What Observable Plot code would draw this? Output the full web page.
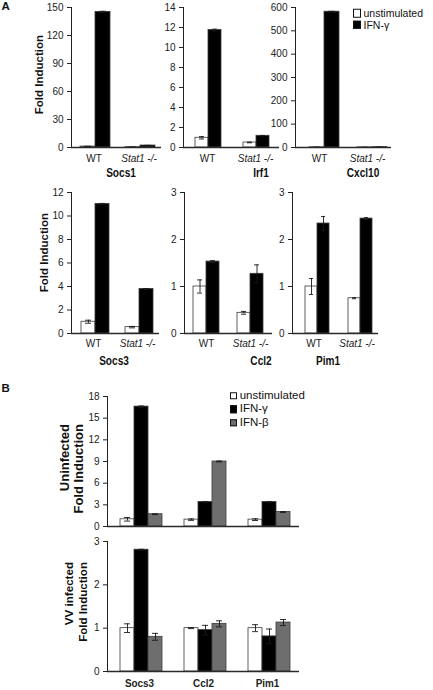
<!DOCTYPE html>
<html><head><meta charset="utf-8">
<script src="https://cdn.jsdelivr.net/npm/d3@7"></script>
<script src="https://cdn.jsdelivr.net/npm/@observablehq/plot@0.6"></script>
<style>
body{margin:0;background:#fff;}
#fig{position:relative;width:433px;height:690px;overflow:hidden;background:#fff;font-family:"Liberation Sans",Arial,Helvetica,sans-serif;color:#111;}
.title{position:absolute;font-weight:bold;font-size:12px;transform:translate(-50%,-50%) scaleX(0.84);white-space:nowrap;line-height:1;}
.ylab{position:absolute;transform-origin:0 0;transform:rotate(-90deg);text-align:right;white-space:pre;font-weight:bold;width:140px;}
.letter{position:absolute;font-weight:bold;font-size:11.5px;line-height:1;transform:translateY(-50%);}
.lg{position:absolute;display:flex;align-items:center;white-space:nowrap;line-height:1;transform:translateY(-50%);}
.lg span.sw{display:inline-block;box-sizing:border-box;border:1px solid #111;}
</style></head>
<body><div id="fig"></div>
<script>
// ---------- data ----------
const genotypes = ["WT", "Stat1 -/-"];
const treatmentsA = ["unstimulated", "IFN-γ"];
const treatmentsB = ["unstimulated", "IFN-γ", "IFN-β"];
const colorsA = ["#ffffff", "#000000"];
const colorsB = ["#ffffff", "#000000", "#6e6e6e"];
const genesA = ["Socs1", "Irf1", "Cxcl10", "Socs3", "Ccl2", "Pim1"];
const genesB = ["Socs3", "Ccl2", "Pim1"];

// order: WT unstim, WT IFN-γ, Stat1-/- unstim, Stat1-/- IFN-γ
const socs1Mean  = [1.0, 145.3, 0.4, 2.1];
const socs1Err   = [0.3, 0.6, 0.1, 0.2];
const irf1Mean   = [0.97, 11.75, 0.5, 1.17];
const irf1Err    = [0.12, 0.08, 0.03, 0.02];
const cxcl10Mean = [1.0, 582, 0.6, 1.4];
const cxcl10Err  = [0.4, 1.5, 0.3, 0.3];
const socs3AMean = [1.0, 11.02, 0.54, 3.79];
const socs3AErr  = [0.13, 0.05, 0.06, 0.04];
const ccl2AMean  = [1.0, 1.53, 0.44, 1.27];
const ccl2AErr   = [0.14, 0.02, 0.03, 0.19];
const pim1AMean  = [1.0, 2.34, 0.75, 2.445];
const pim1AErr   = [0.17, 0.15, 0.01, 0.02];

const ticksSocs1  = [0, 30, 60, 90, 120, 150];
const ticksIrf1   = [0, 2, 4, 6, 8, 10, 12, 14];
const ticksCxcl10 = [0, 100, 200, 300, 400, 500, 600];
const ticksSocs3  = [0, 2, 4, 6, 8, 10, 12];
const ticksCcl2   = [0, 1, 2, 3];
const ticksPim1   = [0, 1, 2, 3];

// panel B, per gene: unstim, IFN-γ, IFN-β
const uninfMean = [1.0, 16.6, 1.7,  0.95, 3.38, 9.0,  0.95, 3.38, 2.0];
const uninfErr  = [0.25, 0.08, 0.05, 0.1, 0.08, 0.06, 0.12, 0.08, 0.05];
const vvMean    = [1.0, 2.81, 0.80,  1.0, 0.955, 1.1,  1.0, 0.81, 1.13];
const vvErr     = [0.1, 0.01, 0.08,  0.01, 0.11, 0.07, 0.08, 0.17, 0.07];
const ticksUninf = [0, 3, 6, 9, 12, 15, 18];
const ticksVV    = [0, 1, 2, 3];

// ---------- helpers ----------
const FONT = '"Liberation Sans", Arial, Helvetica, sans-serif';
const fig = document.getElementById("fig");

function rows(groups, treats, means, errs) {
  const out = [];
  groups.forEach((g, i) => treats.forEach((t, j) => {
    const k = i * treats.length + j;
    out.push({group: g, treat: t, mean: means[k], err: errs[k]});
  }));
  return out;
}

function barPanel({data, groups, treats, colors, ticks, L}) {
  const ymax = ticks[ticks.length - 1];
  const low = d => Math.max(0, d.mean - d.err), high = d => d.mean + d.err;
  const eb = {fx: "group", x: "treat", stroke: "#1a1a1a", strokeWidth: 0.9};
  const svg = Plot.plot({
    width: L.ml + L.w + L.mr, height: L.h,
    marginLeft: L.ml, marginRight: L.mr, marginTop: L.mt, marginBottom: L.mb,
    style: {fontFamily: FONT, fontSize: "10px", color: "#222", background: "none", overflow: "visible"},
    fx: {domain: groups, padding: 0, label: null, axis: L.fxAxis ? "bottom" : null, tickSize: 0, tickPadding: L.tp},
    x: {domain: treats, paddingInner: 0, paddingOuter: L.q, align: L.align, axis: null},
    y: {domain: [0, ymax], ticks, tickFormat: d3.format("d"), tickSize: 4, tickPadding: 4, label: null, line: true},
    color: {domain: treats, range: colors},
    marks: [
      Plot.barY(data, {fx: "group", x: "treat", y: "mean", fill: "treat", stroke: "#3a3a3a", strokeWidth: 0.8}),
      Plot.ruleX(data, {...eb, y1: low, y2: high}),
      Plot.tickY(data, {...eb, y: high, insetLeft: 4, insetRight: 4}),
      Plot.tickY(data, {...eb, y: low, insetLeft: 4, insetRight: 4}),
      Plot.ruleY([0], {stroke: "#2a2a2a", strokeWidth: 1.6})
    ]
  });
  const d = document.createElement("div");
  d.style.cssText = `position:absolute;left:${L.axisX - L.ml}px;top:${L.top}px;`;
  d.appendChild(svg);
  fig.appendChild(d);
  d3.select(svg).selectAll("text").each(function() {
    const s = d3.select(this), t = this.textContent;
    if (t === "Stat1 -/-") s.style("font-style", "italic");
    if (L.bold && genesB.includes(t)) {
      s.style("font-weight", "bold").style("font-size", "11.5px");
      const tr = s.attr("transform") || "";
      s.attr("transform", tr + " scale(0.86,1)");
    }
  });
  return svg;
}

const base = {ml: 30, mr: 6, mt: 6};
const topA = {...base, top: 0.5, h: 166, mb: 20, tp: 7, fxAxis: true};
const botA = {...base, top: 186, h: 167, mb: 20, tp: 6, fxAxis: true};

const panelsA = [
  {means: socs1Mean, errs: socs1Err, ticks: ticksSocs1, L: {...topA, axisX: 71, w: 90, q: 0.5, align: 0.6}},
  {means: irf1Mean, errs: irf1Err, ticks: ticksIrf1, L: {...topA, axisX: 182.7, w: 96.3, q: 0.745, align: 0.55}},
  {means: cxcl10Mean, errs: cxcl10Err, ticks: ticksCxcl10, L: {...topA, axisX: 295, w: 96, q: 0.6, align: 0.75}},
  {means: socs3AMean, errs: socs3AErr, ticks: ticksSocs3, L: {...botA, axisX: 71, w: 88, q: 0.538, align: 0.64}},
  {means: ccl2AMean, errs: ccl2AErr, ticks: ticksCcl2, L: {...botA, axisX: 182.7, w: 89, q: 0.673, align: 0.52}},
  {means: pim1AMean, errs: pim1AErr, ticks: ticksPim1, L: {...botA, axisX: 291, w: 87, q: 0.699, align: 0.7}}
];
panelsA.forEach(p => barPanel({
  data: rows(genotypes, treatmentsA, p.means, p.errs),
  groups: genotypes, treats: treatmentsA, colors: colorsA, ticks: p.ticks, L: p.L
}));

barPanel({data: rows(genesB, treatmentsB, uninfMean, uninfErr), groups: genesB, treats: treatmentsB, colors: colorsB,
  ticks: ticksUninf, L: {...base, top: 390, h: 140, mb: 4, tp: 0, fxAxis: false, axisX: 107, w: 192, q: 0.738, align: 0.6}});
barPanel({data: rows(genesB, treatmentsB, vvMean, vvErr), groups: genesB, treats: treatmentsB, colors: colorsB,
  ticks: ticksVV, L: {...base, top: 535, h: 154, mb: 18, tp: 7.5, fxAxis: true, bold: true, axisX: 107, w: 192, q: 0.738, align: 0.6}});

// ---------- text ----------
function addDiv(cls, text, css) {
  const d = document.createElement("div");
  d.className = cls; d.textContent = text; d.style.cssText += css;
  fig.appendChild(d); return d;
}
const titlePos = [[121, 173], [260.5, 173], [363, 173], [114, 360.5], [261, 360.5], [327.5, 360.5]];
genesA.forEach((g, i) => addDiv("title", g, `left:${titlePos[i][0]}px;top:${titlePos[i][1]}px;`));

addDiv("ylab", "Fold Induction", "left:32.5px;top:175px;font-size:11.5px;line-height:13px;");
addDiv("ylab", "Fold Induction", "left:38.2px;top:353.3px;font-size:11.5px;line-height:13px;");
addDiv("ylab", "Uninfected\nFold Induction", "left:58.2px;top:563.5px;font-size:13px;line-height:13.7px;");
addDiv("ylab", "VV infected\nFold Induction", "left:62px;top:702px;font-size:11.6px;line-height:14px;");

addDiv("letter", "A", "left:1.5px;top:6.7px;");
addDiv("letter", "B", "left:1.5px;top:388.5px;");

function legend(treats, colors, x, ys, size, font, gap) {
  treats.forEach((t, i) => {
    const row = document.createElement("div");
    row.className = "lg";
    row.style.cssText += `left:${x}px;top:${ys[i]}px;font-size:${font}px;`;
    const sw = document.createElement("span");
    sw.className = "sw";
    sw.style.cssText = `width:${size}px;height:${size}px;background:${colors[i]};margin-right:${gap}px;`;
    row.appendChild(sw);
    row.appendChild(document.createTextNode(t));
    fig.appendChild(row);
  });
}
legend(treatmentsA, colorsA, 352.7, [13.2, 25], 8.3, 10.5, 2.5);
legend(treatmentsB, colorsB, 230, [395.7, 409.3, 422.7], 7.2, 11.5, 2.5);
</script>
</body></html>
